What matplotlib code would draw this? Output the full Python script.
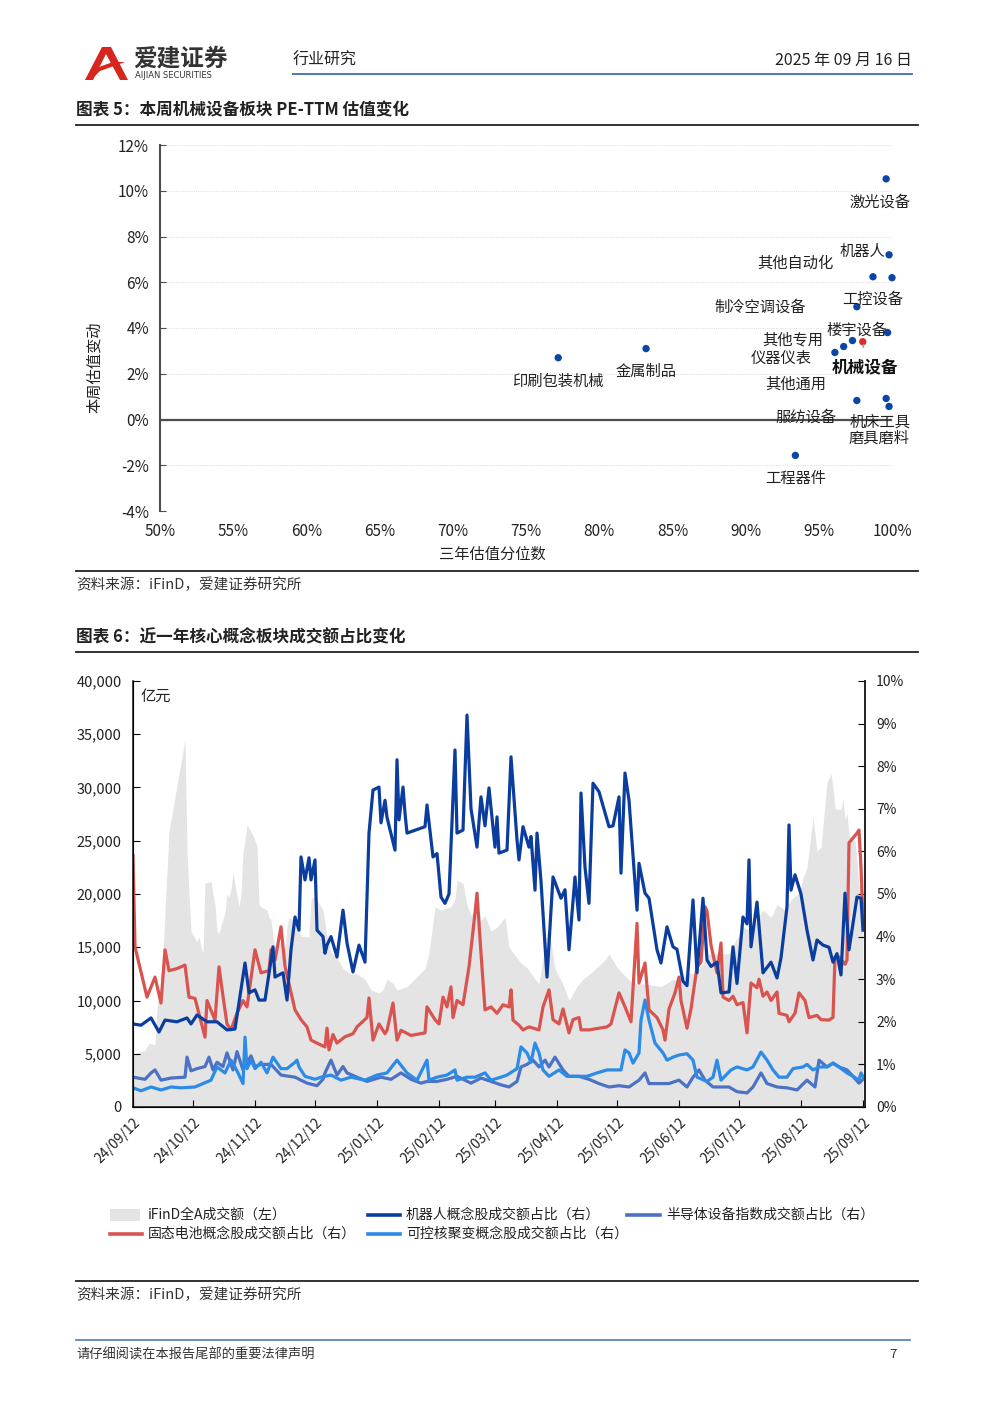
import matplotlib
matplotlib.use('Agg')
import matplotlib.pyplot as plt
import matplotlib.dates as mdates
from matplotlib.patches import Polygon, Rectangle
from matplotlib.ticker import FuncFormatter
import pandas as pd

plt.rcParams['font.family'] = ['Noto Sans CJK SC', 'DejaVu Sans']
plt.rcParams['axes.unicode_minus'] = False

# ---------------- 图表5 数据 ----------------
sector_names = ['激光设备', '机器人', '其他自动化', '工控设备', '制冷空调设备', '楼宇设备',
                '其他专用', '机械设备', '仪器仪表', '其他通用', '服纺设备', '机床工具',
                '磨具磨料', '工程器件', '印刷包装机械', '金属制品']
pct_rank = [99.6, 99.8, 98.7, 100.0, 97.6, 99.7, 97.3, 98.0, 96.7, 96.1, 97.6, 99.6,
            99.8, 93.4, 77.2, 83.2]
val_change = [10.52, 7.2, 6.24, 6.2, 4.93, 3.8, 3.45, 3.4, 3.19, 2.93, 0.83, 0.92,
              0.57, -1.57, 2.7, 3.1]

# ---------------- 图表6 数据 ----------------
turnover = [('2024-09-12', 5000), ('2024-09-18', 5300), ('2024-09-20', 6000), ('2024-09-23', 5800),
            ('2024-09-24', 9400), ('2024-09-26', 11600), ('2024-09-27', 14400), ('2024-09-30', 25900),
            ('2024-10-08', 34500), ('2024-10-09', 24000), ('2024-10-10', 20000), ('2024-10-11', 16500),
            ('2024-10-14', 15500), ('2024-10-15', 16000), ('2024-10-16', 15000), ('2024-10-17', 14500),
            ('2024-10-18', 21000), ('2024-10-21', 21200), ('2024-10-22', 20000), ('2024-10-23', 19000),
            ('2024-10-24', 16500), ('2024-10-25', 16300), ('2024-10-28', 18300), ('2024-10-29', 20000),
            ('2024-10-30', 19700), ('2024-10-31', 20500), ('2024-11-01', 22000), ('2024-11-04', 18800),
            ('2024-11-05', 20000), ('2024-11-06', 24000), ('2024-11-07', 25000), ('2024-11-08', 26500),
            ('2024-11-11', 25500), ('2024-11-12', 25000), ('2024-11-13', 24500), ('2024-11-14', 19000),
            ('2024-11-15', 18800), ('2024-11-18', 18500), ('2024-11-19', 17800), ('2024-11-20', 17600),
            ('2024-11-21', 16000), ('2024-11-22', 15000), ('2024-11-25', 15500), ('2024-11-26', 14800),
            ('2024-11-27', 15000), ('2024-11-28', 17000), ('2024-11-29', 17800), ('2024-12-02', 17500),
            ('2024-12-05', 16000), ('2024-12-09', 16000), ('2024-12-10', 19500), ('2024-12-12', 19800),
            ('2024-12-16', 18500), ('2024-12-18', 16000), ('2024-12-20', 14500), ('2024-12-23', 14000),
            ('2024-12-26', 13000), ('2024-12-30', 12500), ('2025-01-02', 12500), ('2025-01-06', 12000),
            ('2025-01-09', 11000), ('2025-01-13', 10700), ('2025-01-15', 11000), ('2025-01-17', 12000),
            ('2025-01-20', 11600), ('2025-01-22', 11000), ('2025-01-27', 11300), ('2025-02-05', 13000),
            ('2025-02-07', 14500), ('2025-02-10', 18800), ('2025-02-13', 18500), ('2025-02-18', 18800),
            ('2025-02-20', 19500), ('2025-02-21', 21300), ('2025-02-24', 21000), ('2025-02-26', 19000),
            ('2025-02-28', 18000), ('2025-03-03', 18800), ('2025-03-05', 17500), ('2025-03-07', 18000),
            ('2025-03-10', 16500), ('2025-03-13', 16900), ('2025-03-17', 17800), ('2025-03-19', 15000),
            ('2025-03-21', 14500), ('2025-03-25', 13500), ('2025-03-28', 13100), ('2025-04-01', 12000),
            ('2025-04-03', 11600), ('2025-04-07', 16300), ('2025-04-09', 15500), ('2025-04-11', 13000),
            ('2025-04-15', 11500), ('2025-04-17', 10500), ('2025-04-18', 10000), ('2025-04-22', 11300),
            ('2025-04-25', 12000), ('2025-04-29', 12600), ('2025-05-06', 13800), ('2025-05-08', 14400),
            ('2025-05-12', 13100), ('2025-05-15', 12500), ('2025-05-20', 11600), ('2025-05-23', 11600),
            ('2025-05-28', 11500), ('2025-06-03', 11300), ('2025-06-09', 12000), ('2025-06-12', 11800),
            ('2025-06-16', 12600), ('2025-06-20', 12500), ('2025-06-24', 13500), ('2025-06-27', 14400),
            ('2025-07-01', 14400), ('2025-07-07', 14400), ('2025-07-10', 15500), ('2025-07-14', 16900),
            ('2025-07-18', 16500), ('2025-07-21', 17600), ('2025-07-24', 18500), ('2025-07-28', 17800),
            ('2025-07-31', 19000), ('2025-08-04', 18500), ('2025-08-07', 19500), ('2025-08-11', 20100),
            ('2025-08-13', 21500), ('2025-08-15', 22500), ('2025-08-18', 27200), ('2025-08-20', 24000),
            ('2025-08-22', 24400), ('2025-08-25', 30500), ('2025-08-27', 31300), ('2025-08-28', 30000),
            ('2025-08-29', 28000), ('2025-09-01', 27900), ('2025-09-02', 29000), ('2025-09-03', 27000),
            ('2025-09-04', 27600), ('2025-09-05', 25500), ('2025-09-08', 25000), ('2025-09-09', 23000),
            ('2025-09-10', 20700), ('2025-09-11', 21000), ('2025-09-12', 19500)]

robot = [('2024-09-12', 1.95), ('2024-09-16', 1.92), ('2024-09-21', 2.09), ('2024-09-25', 1.76),
         ('2024-09-28', 2.04), ('2024-10-04', 2.0), ('2024-10-09', 2.09), ('2024-10-11', 1.95),
         ('2024-10-14', 2.16), ('2024-10-19', 2.0), ('2024-10-24', 2.0), ('2024-10-29', 1.81),
         ('2024-11-02', 1.83), ('2024-11-07', 3.38), ('2024-11-09', 2.68), ('2024-11-12', 2.75),
         ('2024-11-14', 2.51), ('2024-11-17', 2.51), ('2024-11-21', 3.76), ('2024-11-22', 3.05),
         ('2024-11-26', 3.15), ('2024-11-28', 2.51), ('2024-11-30', 3.69), ('2024-12-02', 4.46),
         ('2024-12-04', 4.15), ('2024-12-05', 5.87), ('2024-12-07', 5.33), ('2024-12-09', 5.85),
         ('2024-12-10', 5.33), ('2024-12-12', 5.8), ('2024-12-13', 4.15), ('2024-12-16', 4.0),
         ('2024-12-17', 3.61), ('2024-12-18', 3.8), ('2024-12-20', 4.0), ('2024-12-23', 3.52),
         ('2024-12-26', 4.62), ('2024-12-28', 3.85), ('2024-12-31', 3.17), ('2025-01-03', 3.8),
         ('2025-01-06', 3.4), ('2025-01-08', 6.43), ('2025-01-10', 7.44), ('2025-01-13', 7.51),
         ('2025-01-14', 6.67), ('2025-01-16', 7.2), ('2025-01-17', 6.8), ('2025-01-21', 6.03),
         ('2025-01-22', 8.15), ('2025-01-23', 6.74), ('2025-01-25', 7.51), ('2025-01-26', 6.9),
         ('2025-01-27', 6.43), ('2025-02-05', 6.58), ('2025-02-06', 7.09), ('2025-02-09', 5.87),
         ('2025-02-11', 5.95), ('2025-02-13', 4.93), ('2025-02-15', 4.78), ('2025-02-17', 5.0),
         ('2025-02-20', 8.38), ('2025-02-21', 6.43), ('2025-02-24', 6.5), ('2025-02-26', 9.2),
         ('2025-02-28', 7.0), ('2025-03-03', 6.1), ('2025-03-05', 7.28), ('2025-03-07', 6.6),
         ('2025-03-09', 7.49), ('2025-03-12', 6.1), ('2025-03-13', 6.81), ('2025-03-14', 5.96),
         ('2025-03-18', 6.03), ('2025-03-20', 8.22), ('2025-03-23', 6.27), ('2025-03-24', 5.8),
         ('2025-03-26', 6.58), ('2025-03-29', 6.1), ('2025-03-30', 6.35), ('2025-04-01', 5.09),
         ('2025-04-02', 6.43), ('2025-04-04', 5.3), ('2025-04-07', 3.05), ('2025-04-10', 5.4),
         ('2025-04-14', 4.9), ('2025-04-16', 5.1), ('2025-04-18', 3.69), ('2025-04-21', 5.4),
         ('2025-04-23', 4.39), ('2025-04-24', 7.37), ('2025-04-26', 5.63), ('2025-04-28', 4.78),
         ('2025-04-30', 7.6), ('2025-05-03', 7.4), ('2025-05-08', 6.58), ('2025-05-10', 6.6),
         ('2025-05-13', 7.28), ('2025-05-14', 5.49), ('2025-05-16', 7.84), ('2025-05-18', 7.2),
         ('2025-05-22', 4.62), ('2025-05-23', 5.72), ('2025-05-26', 5.02), ('2025-05-28', 4.9),
         ('2025-06-01', 3.69), ('2025-06-03', 3.38), ('2025-06-06', 4.23), ('2025-06-09', 3.76),
         ('2025-06-11', 3.7), ('2025-06-14', 2.95), ('2025-06-16', 2.85), ('2025-06-19', 4.86),
         ('2025-06-21', 3.15), ('2025-06-24', 4.9), ('2025-06-26', 3.45), ('2025-06-28', 3.3),
         ('2025-07-01', 3.4), ('2025-07-03', 2.68), ('2025-07-07', 2.7), ('2025-07-09', 3.76),
         ('2025-07-11', 2.9), ('2025-07-14', 4.46), ('2025-07-16', 4.3), ('2025-07-17', 5.8),
         ('2025-07-18', 3.76), ('2025-07-21', 4.81), ('2025-07-24', 3.15), ('2025-07-28', 3.4),
         ('2025-07-31', 3.03), ('2025-08-02', 3.5), ('2025-08-05', 4.7), ('2025-08-06', 6.62),
         ('2025-08-07', 5.09), ('2025-08-09', 5.45), ('2025-08-12', 5.0), ('2025-08-15', 4.15),
         ('2025-08-18', 3.45), ('2025-08-20', 3.92), ('2025-08-23', 3.8), ('2025-08-26', 3.75),
         ('2025-08-28', 3.4), ('2025-08-30', 3.6), ('2025-09-01', 3.1), ('2025-09-03', 5.02),
         ('2025-09-05', 3.69), ('2025-09-09', 4.93), ('2025-09-11', 4.9), ('2025-09-12', 4.15)]

battery = [('2024-09-12', 5.9), ('2024-09-13', 3.76), ('2024-09-19', 2.58), ('2024-09-23', 3.05),
           ('2024-09-26', 2.44), ('2024-09-28', 3.69), ('2024-09-30', 3.2), ('2024-10-04', 3.25),
           ('2024-10-08', 3.33), ('2024-10-10', 2.58), ('2024-10-13', 2.55), ('2024-10-18', 1.64),
           ('2024-10-19', 2.5), ('2024-10-23', 2.04), ('2024-10-25', 3.29), ('2024-10-27', 2.6),
           ('2024-10-29', 1.95), ('2024-10-31', 1.81), ('2024-11-03', 2.2), ('2024-11-06', 2.5),
           ('2024-11-08', 2.35), ('2024-11-12', 3.69), ('2024-11-15', 3.15), ('2024-11-19', 3.2),
           ('2024-11-20', 3.69), ('2024-11-22', 3.45), ('2024-11-25', 4.23), ('2024-11-27', 3.3),
           ('2024-12-02', 2.28), ('2024-12-05', 2.05), ('2024-12-08', 1.88), ('2024-12-10', 1.57),
           ('2024-12-13', 1.5), ('2024-12-17', 1.41), ('2024-12-18', 1.85), ('2024-12-19', 1.34),
           ('2024-12-21', 1.7), ('2024-12-23', 1.5), ('2024-12-27', 1.65), ('2024-12-31', 1.72),
           ('2025-01-02', 1.88), ('2025-01-07', 2.1), ('2025-01-08', 2.56), ('2025-01-10', 1.57),
           ('2025-01-13', 1.95), ('2025-01-16', 1.72), ('2025-01-17', 1.8), ('2025-01-20', 2.44),
           ('2025-01-22', 1.57), ('2025-01-24', 1.8), ('2025-01-29', 1.68), ('2025-02-05', 1.74),
           ('2025-02-06', 2.35), ('2025-02-10', 2.05), ('2025-02-12', 1.95), ('2025-02-14', 2.58),
           ('2025-02-16', 2.35), ('2025-02-18', 2.82), ('2025-02-19', 2.1), ('2025-02-21', 2.5),
           ('2025-02-24', 2.4), ('2025-02-27', 3.29), ('2025-03-02', 4.55), ('2025-03-03', 5.02),
           ('2025-03-05', 3.61), ('2025-03-07', 2.28), ('2025-03-10', 2.35), ('2025-03-13', 2.2),
           ('2025-03-16', 2.4), ('2025-03-19', 2.35), ('2025-03-20', 2.75), ('2025-03-21', 2.04),
           ('2025-03-24', 1.92), ('2025-03-26', 1.81), ('2025-03-29', 1.88), ('2025-04-03', 1.81),
           ('2025-04-05', 2.35), ('2025-04-08', 2.75), ('2025-04-10', 2.05), ('2025-04-13', 1.95),
           ('2025-04-15', 2.3), ('2025-04-18', 1.74), ('2025-04-20', 2.05), ('2025-04-23', 2.1),
           ('2025-04-24', 1.81), ('2025-04-28', 1.81), ('2025-05-07', 1.88), ('2025-05-09', 1.95),
           ('2025-05-13', 2.68), ('2025-05-16', 2.35), ('2025-05-19', 2.0), ('2025-05-22', 4.31),
           ('2025-05-23', 2.91), ('2025-05-26', 3.38), ('2025-05-28', 2.28), ('2025-06-01', 2.1),
           ('2025-06-04', 1.81), ('2025-06-05', 1.57), ('2025-06-07', 2.3), ('2025-06-10', 2.68),
           ('2025-06-12', 3.05), ('2025-06-13', 2.5), ('2025-06-16', 1.85), ('2025-06-18', 2.3),
           ('2025-06-21', 3.29), ('2025-06-23', 3.4), ('2025-06-25', 4.7), ('2025-06-26', 4.6),
           ('2025-06-28', 3.8), ('2025-07-01', 3.15), ('2025-07-03', 3.85), ('2025-07-04', 2.58),
           ('2025-07-07', 2.5), ('2025-07-09', 2.6), ('2025-07-11', 2.4), ('2025-07-14', 2.45),
           ('2025-07-16', 1.74), ('2025-07-18', 2.91), ('2025-07-21', 2.8), ('2025-07-22', 3.0),
           ('2025-07-24', 2.6), ('2025-07-26', 2.7), ('2025-07-28', 2.5), ('2025-07-31', 2.7),
           ('2025-08-01', 2.2), ('2025-08-05', 2.15), ('2025-08-06', 2.0), ('2025-08-09', 2.2),
           ('2025-08-11', 2.68), ('2025-08-14', 2.5), ('2025-08-16', 2.1), ('2025-08-20', 2.15),
           ('2025-08-22', 2.05), ('2025-08-26', 2.04), ('2025-08-28', 2.1), ('2025-08-29', 3.52),
           ('2025-08-31', 3.52), ('2025-09-03', 3.35), ('2025-09-04', 3.45), ('2025-09-05', 6.2),
           ('2025-09-09', 6.43), ('2025-09-10', 6.5), ('2025-09-11', 5.63), ('2025-09-12', 4.39)]

semi = [('2024-09-12', 0.7), ('2024-09-18', 0.65), ('2024-09-21', 0.8), ('2024-09-23', 0.87),
        ('2024-09-26', 0.63), ('2024-10-01', 0.68), ('2024-10-08', 0.7), ('2024-10-09', 1.17),
        ('2024-10-11', 0.85), ('2024-10-14', 0.9), ('2024-10-18', 0.95), ('2024-10-20', 1.17),
        ('2024-10-22', 0.87), ('2024-10-24', 1.05), ('2024-10-27', 0.95), ('2024-10-29', 1.27),
        ('2024-11-01', 0.87), ('2024-11-03', 1.3), ('2024-11-06', 0.87), ('2024-11-10', 1.2),
        ('2024-11-12', 0.95), ('2024-11-15', 1.0), ('2024-11-20', 1.0), ('2024-11-25', 0.75),
        ('2024-12-02', 0.7), ('2024-12-08', 0.56), ('2024-12-13', 0.5), ('2024-12-16', 0.65),
        ('2024-12-17', 0.8), ('2024-12-20', 1.1), ('2024-12-23', 0.75), ('2024-12-26', 0.95),
        ('2024-12-28', 0.8), ('2025-01-02', 0.7), ('2025-01-07', 0.6), ('2025-01-14', 0.7),
        ('2025-01-19', 0.65), ('2025-01-24', 0.8), ('2025-01-29', 0.65), ('2025-02-03', 0.56),
        ('2025-02-06', 0.6), ('2025-02-11', 0.6), ('2025-02-16', 0.65), ('2025-02-21', 0.72),
        ('2025-02-28', 0.56), ('2025-03-05', 0.68), ('2025-03-10', 0.6), ('2025-03-15', 0.52),
        ('2025-03-19', 0.47), ('2025-03-23', 0.6), ('2025-03-25', 0.94), ('2025-03-28', 1.0),
        ('2025-03-31', 1.1), ('2025-04-03', 0.94), ('2025-04-06', 1.1), ('2025-04-08', 0.94),
        ('2025-04-11', 1.17), ('2025-04-15', 0.87), ('2025-04-18', 0.72), ('2025-04-23', 0.72),
        ('2025-04-28', 0.65), ('2025-05-03', 0.55), ('2025-05-08', 0.47), ('2025-05-13', 0.5),
        ('2025-05-18', 0.47), ('2025-05-23', 0.63), ('2025-05-26', 0.8), ('2025-05-28', 0.55),
        ('2025-06-02', 0.55), ('2025-06-07', 0.55), ('2025-06-12', 0.63), ('2025-06-16', 0.47),
        ('2025-06-19', 0.7), ('2025-06-22', 0.87), ('2025-06-25', 0.63), ('2025-06-29', 0.47),
        ('2025-07-04', 0.47), ('2025-07-07', 0.47), ('2025-07-11', 0.36), ('2025-07-16', 0.33),
        ('2025-07-19', 0.47), ('2025-07-23', 0.8), ('2025-07-26', 0.55), ('2025-07-31', 0.47),
        ('2025-08-05', 0.45), ('2025-08-10', 0.4), ('2025-08-15', 0.63), ('2025-08-19', 0.47),
        ('2025-08-21', 1.1), ('2025-08-25', 0.94), ('2025-08-28', 1.03), ('2025-08-31', 0.94),
        ('2025-09-04', 0.87), ('2025-09-07', 0.72), ('2025-09-10', 0.56), ('2025-09-12', 0.65)]

fusion = [('2024-09-12', 0.45), ('2024-09-16', 0.38), ('2024-09-21', 0.47), ('2024-09-26', 0.4),
          ('2024-10-01', 0.47), ('2024-10-06', 0.45), ('2024-10-13', 0.47), ('2024-10-17', 0.55),
          ('2024-10-21', 0.63), ('2024-10-24', 0.94), ('2024-10-28', 0.8), ('2024-10-31', 1.1),
          ('2024-11-03', 0.85), ('2024-11-06', 0.55), ('2024-11-07', 1.64), ('2024-11-08', 0.9),
          ('2024-11-10', 1.1), ('2024-11-12', 0.9), ('2024-11-15', 1.05), ('2024-11-18', 0.8),
          ('2024-11-21', 1.17), ('2024-11-25', 0.9), ('2024-11-28', 0.9), ('2024-12-02', 1.05),
          ('2024-12-03', 1.1), ('2024-12-04', 0.94), ('2024-12-07', 0.72), ('2024-12-12', 0.65),
          ('2024-12-15', 0.7), ('2024-12-20', 0.75), ('2024-12-25', 0.63), ('2024-12-30', 0.7),
          ('2025-01-06', 0.63), ('2025-01-12', 0.75), ('2025-01-17', 0.8), ('2025-01-22', 1.1),
          ('2025-01-27', 0.8), ('2025-02-01', 0.63), ('2025-02-06', 1.1), ('2025-02-07', 0.63),
          ('2025-02-11', 0.7), ('2025-02-16', 0.75), ('2025-02-20', 0.87), ('2025-02-21', 0.63),
          ('2025-02-26', 0.7), ('2025-03-02', 0.7), ('2025-03-07', 0.8), ('2025-03-10', 0.63),
          ('2025-03-15', 0.7), ('2025-03-18', 0.75), ('2025-03-23', 0.9), ('2025-03-25', 1.41),
          ('2025-03-28', 1.27), ('2025-03-30', 1.05), ('2025-04-01', 1.5), ('2025-04-03', 1.27),
          ('2025-04-05', 0.87), ('2025-04-08', 0.72), ('2025-04-13', 0.87), ('2025-04-17', 0.72),
          ('2025-04-22', 0.72), ('2025-04-27', 0.72), ('2025-05-02', 0.8), ('2025-05-07', 0.87),
          ('2025-05-12', 0.87), ('2025-05-14', 0.87), ('2025-05-16', 1.34), ('2025-05-18', 1.27),
          ('2025-05-20', 1.03), ('2025-05-23', 1.27), ('2025-05-24', 2.04), ('2025-05-26', 2.51),
          ('2025-05-28', 2.04), ('2025-05-31', 1.5), ('2025-06-04', 1.27), ('2025-06-06', 1.1),
          ('2025-06-09', 1.17), ('2025-06-12', 1.22), ('2025-06-16', 1.25), ('2025-06-19', 1.1),
          ('2025-06-21', 0.7), ('2025-06-26', 0.6), ('2025-06-29', 0.7), ('2025-07-01', 1.1),
          ('2025-07-03', 0.63), ('2025-07-08', 0.87), ('2025-07-11', 0.94), ('2025-07-16', 0.87),
          ('2025-07-19', 0.94), ('2025-07-23', 1.29), ('2025-07-26', 1.1), ('2025-07-29', 0.87),
          ('2025-08-01', 0.7), ('2025-08-05', 0.7), ('2025-08-08', 0.9), ('2025-08-13', 0.94),
          ('2025-08-15', 1.0), ('2025-08-18', 0.87), ('2025-08-21', 0.94), ('2025-08-25', 0.94),
          ('2025-08-28', 1.03), ('2025-08-31', 0.94), ('2025-09-04', 0.8), ('2025-09-07', 0.72),
          ('2025-09-10', 0.63), ('2025-09-11', 0.8), ('2025-09-12', 0.72)]

legend_labels = ['iFinD全A成交额（左）', '机器人概念股成交额占比（右）', '半导体设备指数成交额占比（右）',
                 '固态电池概念股成交额占比（右）', '可控核聚变概念股成交额占比（右）']

C_ROBOT = '#0b3d9e'
C_BATT = '#d9534f'
C_SEMI = '#4b72c4'
C_FUS = '#2b8be6'
C_GRAY = '#e4e4e4'


def to_series(pairs):
    d = pd.to_datetime([p[0] for p in pairs])
    v = [p[1] for p in pairs]
    return d, v


fig = plt.figure(figsize=(10, 14.14), dpi=100)

# page decorations in pixel coordinates
page = fig.add_axes([0, 0, 1, 1])
page.set_xlim(0, 1000)
page.set_ylim(1414, 0)
page.axis('off')

# logo
red = '#d7261e'
page.add_patch(Polygon([(85, 80), (102, 47), (111, 47), (128, 80), (120, 80), (106, 54), (93, 80)],
                       closed=True, color=red, lw=0))
page.add_patch(Polygon([(89, 75), (99, 67), (113, 62), (125, 62), (114, 66), (100, 71), (94, 77)],
                       closed=True, color=red, lw=0))
page.text(133, 59, '爱建证券', fontsize=17, fontweight='bold', color='#333333', ha='left', va='center')
page.text(135, 75, 'AIJIAN SECURITIES', fontsize=6, color='#333333', ha='left', va='center',
          family=['DejaVu Sans'])
page.text(293, 60, '行业研究', fontsize=11.5, color='#222222', ha='left', va='center')
page.text(912, 60, '2025 年 09 月 16 日', fontsize=11.5, color='#222222', ha='right', va='center')
page.plot([293, 912], [73.5, 73.5], color='#4f78b8', lw=1.4)

page.text(76, 110, '图表 5：本周机械设备板块 PE-TTM 估值变化', fontsize=12, fontweight='bold',
          color='#222222', ha='left', va='center')
page.plot([76, 918], [124.5, 124.5], color='#222222', lw=1.3)
page.plot([76, 918], [570.5, 570.5], color='#222222', lw=1.3)
page.text(76, 585, '资料来源：iFinD，爱建证券研究所', fontsize=10.5, color='#333333', ha='left', va='center')

page.text(76, 637, '图表 6：近一年核心概念板块成交额占比变化', fontsize=12, fontweight='bold',
          color='#222222', ha='left', va='center')
page.plot([76, 918], [651.5, 651.5], color='#222222', lw=1.3)
page.plot([76, 918], [1281, 1281], color='#222222', lw=1.3)
page.text(76, 1295, '资料来源：iFinD，爱建证券研究所', fontsize=10.5, color='#333333', ha='left', va='center')

page.plot([76, 910], [1340, 1340], color='#4f78b8', lw=1.2)
page.text(76, 1355, '请仔细阅读在本报告尾部的重要法律声明', fontsize=9.5, color='#333333', ha='left', va='center')
page.text(893, 1355, '7', fontsize=9.5, color='#333333', ha='center', va='center')

# legend for chart 6 (drawn by hand to keep the row layout)
page.add_patch(Rectangle((110, 1209), 30, 12, color=C_GRAY, lw=0))
page.text(148, 1215, legend_labels[0], fontsize=10, color='#222222', ha='left', va='center')
page.plot([368, 400], [1215, 1215], color=C_ROBOT, lw=2.6)
page.text(406, 1215, legend_labels[1], fontsize=10, color='#222222', ha='left', va='center')
page.plot([627, 660], [1215, 1215], color=C_SEMI, lw=2.6)
page.text(666, 1215, legend_labels[2], fontsize=10, color='#222222', ha='left', va='center')
page.plot([110, 142], [1234, 1234], color=C_BATT, lw=2.6)
page.text(148, 1234, legend_labels[3], fontsize=10, color='#222222', ha='left', va='center')
page.plot([368, 400], [1234, 1234], color=C_FUS, lw=2.6)
page.text(406, 1234, legend_labels[4], fontsize=10, color='#222222', ha='left', va='center')

# ---------------- 图表5 ----------------
ax1 = fig.add_axes([0.160, 1 - 511 / 1414, 0.732, 366 / 1414])
ax1.set_xlim(50, 100)
ax1.set_ylim(-4, 12)
for v in range(-4, 13, 2):
    if v != 0:
        ax1.axhline(v, color='#e2e2e2', lw=0.8, ls=(0, (1, 1)), zorder=0)
ax1.axhline(0, color='#4d4d4d', lw=1.6, zorder=1)
for s in ['top', 'right', 'bottom']:
    ax1.spines[s].set_visible(False)
ax1.spines['left'].set_color('#4d4d4d')
ax1.spines['left'].set_linewidth(1.5)
ax1.set_xticks(range(50, 101, 5))
ax1.set_xticklabels([f'{v}%' for v in range(50, 101, 5)])
ax1.set_yticks(range(-4, 13, 2))
ax1.set_yticklabels([f'{v}%' for v in range(-4, 13, 2)])
ax1.tick_params(axis='x', length=0, pad=9, labelsize=11, labelcolor='#222222')
ax1.tick_params(axis='y', direction='in', length=4, color='#4d4d4d', pad=8, labelsize=11,
                labelcolor='#222222')
ax1.set_xlabel('三年估值分位数', fontsize=11, color='#222222')
ax1.xaxis.set_label_coords(0.4536, -0.095)
ax1.set_ylabel('本周估值变动', fontsize=11, color='#222222')
ax1.yaxis.set_label_coords(-0.078, 0.393)

colors = ['#e02a2a' if n == '机械设备' else '#0b45a5' for n in sector_names]
ax1.scatter(pct_rank, val_change, s=28, c=colors, zorder=3, linewidths=0, clip_on=False)

label_pos = {'激光设备': (99.18, 9.52), '机器人': (97.95, 7.34), '其他自动化': (93.37, 6.81),
             '工控设备': (98.70, 5.24), '制冷空调设备': (90.98, 4.93), '楼宇设备': (97.61, 3.89),
             '其他专用': (93.24, 3.49), '仪器仪表': (92.42, 2.66), '其他通用': (93.44, 1.53),
             '服纺设备': (94.13, 0.09), '机床工具': (99.18, -0.13), '磨具磨料': (99.11, -0.83),
             '工程器件': (93.44, -2.58), '印刷包装机械': (77.19, 1.66), '金属制品': (83.20, 2.10)}
for name, x, y in zip(sector_names, pct_rank, val_change):
    if name == '机械设备':
        ax1.annotate(name, xy=(x, y), xytext=(98.16, 2.27), fontsize=12, fontweight='bold',
                     color='#111111', ha='center', va='center', zorder=4,
                     arrowprops=dict(arrowstyle='-', color='#9a9a9a', lw=1, shrinkA=6, shrinkB=2))
    else:
        lx, ly = label_pos[name]
        ax1.text(lx, ly, name, fontsize=11, color='#222222', ha='center', va='center', zorder=4)

# ---------------- 图表6 ----------------
ax = fig.add_axes([0.133, 1 - 1107 / 1414, 0.732, 426 / 1414])
td, tv = to_series(turnover)
ax.fill_between(td, tv, 0, color=C_GRAY, lw=0, zorder=1)
ax.set_ylim(0, 40000)
ax.set_yticks(range(0, 40001, 5000))
ax.yaxis.set_major_formatter(FuncFormatter(lambda v, p: f'{v:,.0f}'))
ax.set_xlim(pd.Timestamp('2024-09-12'), pd.Timestamp('2025-09-13'))
ticks = [pd.Timestamp(2024 + (8 + i) // 12, (8 + i) % 12 + 1, 12) for i in range(13)]
ax.set_xticks(ticks)
ax.xaxis.set_major_formatter(mdates.DateFormatter('%y/%m/%d'))
ax.spines['top'].set_visible(False)
for s in ['left', 'bottom', 'right']:
    ax.spines[s].set_color('#222222')
    ax.spines[s].set_linewidth(1.2)
ax.tick_params(axis='y', direction='in', length=5, labelsize=10.5, pad=8, labelcolor='#222222')
ax.tick_params(axis='x', direction='in', length=5, labelsize=10, pad=6, labelcolor='#222222')
for lab in ax.get_xticklabels():
    lab.set_rotation(45)
    lab.set_ha('right')
    lab.set_va('top')
    lab.set_rotation_mode('anchor')
ax.text(0.01, 0.965, '亿元', transform=ax.transAxes, fontsize=11, color='#222222',
        ha='left', va='center')

ax2 = ax.twinx()
ax2.set_ylim(0, 10)
ax2.set_yticks(range(0, 11))
ax2.set_yticklabels([f'{v}%' for v in range(0, 11)])
ax2.spines['top'].set_visible(False)
ax2.spines['right'].set_color('#222222')
ax2.spines['right'].set_linewidth(1.2)
ax2.tick_params(axis='y', direction='in', length=5, labelsize=10, pad=8, labelcolor='#222222')

for pairs, c in [(semi, C_SEMI), (fusion, C_FUS), (battery, C_BATT), (robot, C_ROBOT)]:
    d, v = to_series(pairs)
    ax2.plot(d, v, color=c, lw=2.3, solid_joinstyle='round')

fig.savefig('out.png', dpi=100)
